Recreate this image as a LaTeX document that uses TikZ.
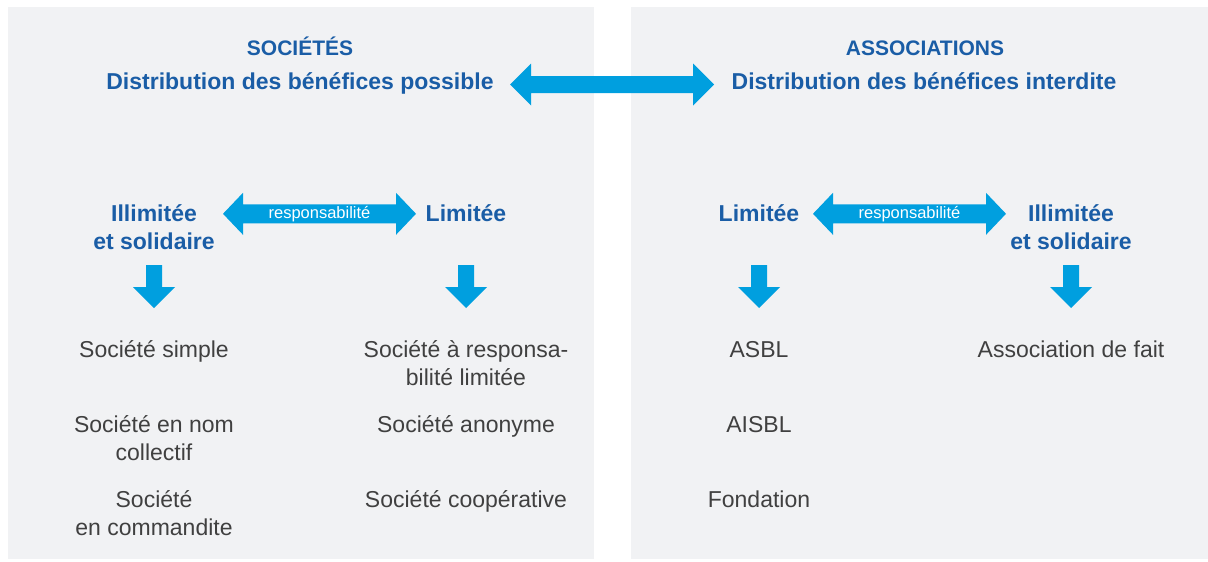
\documentclass[tikz,border=0pt]{standalone}
\usepackage{fontspec}
\setmainfont{Liberation Sans}
\usetikzlibrary{calc}
\definecolor{panelgray}{HTML}{F1F2F4}
\definecolor{arrowblue}{HTML}{009FDF}
\definecolor{headblue}{HTML}{1A5DA6}
\definecolor{bodygray}{HTML}{404040}
\tikzset{
  head/.style={font=\bfseries\fontsize{23}{28}\selectfont, text=headblue, anchor=base, inner sep=0pt, align=center},
  title/.style={font=\bfseries\fontsize{21}{25}\selectfont, text=headblue, anchor=base, inner sep=0pt},
  body/.style={font=\fontsize{23}{28}\selectfont, text=bodygray, anchor=base, inner sep=0pt, align=center},
  lbl/.style={font=\fontsize{16.5}{19}\selectfont, text=white, inner sep=0pt},
}
\newcommand\hdarrow[5]{%
  \fill[arrowblue] (#1) -- ($(#1)+(#5,-#4)$) -- ($(#1)+(#5,-#3)$) -- ($(#2)+(-#5,-#3)$) -- ($(#2)+(-#5,-#4)$) -- (#2) -- ($(#2)+(-#5,#4)$) -- ($(#2)+(-#5,#3)$) -- ($(#1)+(#5,#3)$) -- ($(#1)+(#5,#4)$) -- cycle;}
\newcommand\vdarrow[2]{%
  \fill[arrowblue] ($(#1)+(-8,0)$) -- ($(#1)+(8,0)$) -- ($(#2)+(8,-21)$) -- ($(#2)+(21,-21)$) -- (#2) -- ($(#2)+(-21,-21)$) -- ($(#2)+(-8,-21)$) -- cycle;}
\begin{document}
\begin{tikzpicture}[x=1pt,y=-1pt]
\useasboundingbox (0,0) rectangle (1208,562);
\fill[panelgray] (8,7) rectangle (594,559);
\fill[panelgray] (631,7) rectangle (1208,559);

% titles
\node[title] (soc) at (300,55) {SOCIÉTÉS};
\node[head] (socd) at (300,89) {Distribution des bénéfices possible};
\node[title] (ass) at (925,55) {ASSOCIATIONS};
\node[head] (assd) at (924,89) {Distribution des bénéfices interdite};

% big arrow
\coordinate (bigL) at (510,84.5);
\coordinate (bigR) at (714,84.5);
\hdarrow{bigL}{bigR}{8.5}{21}{21}

% left responsibility
\node[head] (illL) at (154,249) {Illimitée\\et solidaire};
\node[head] (limL) at (466,221) {Limitée};
\coordinate (rsL1) at (223,213.8);
\coordinate (rsL2) at (416,213.8);
\hdarrow{rsL1}{rsL2}{9.5}{21}{20}
\node[lbl] (respL) at ($(rsL1)!0.5!(rsL2)$) {responsabilité};

% right responsibility
\node[head] (limR) at (759,221) {Limitée};
\node[head] (illR) at (1071,249) {Illimitée\\et solidaire};
\coordinate (rsR1) at (813,213.8);
\coordinate (rsR2) at (1006,213.8);
\hdarrow{rsR1}{rsR2}{9.5}{21}{20}
\node[lbl] (respR) at ($(rsR1)!0.5!(rsR2)$) {responsabilité};

% down arrows
\coordinate (d1t) at (154,265); \coordinate (d1b) at (154,308);
\coordinate (d2t) at (466,265); \coordinate (d2b) at (466,308);
\coordinate (d3t) at (759,265); \coordinate (d3b) at (759,308);
\coordinate (d4t) at (1071,265); \coordinate (d4b) at (1071,308);
\vdarrow{d1t}{d1b}
\vdarrow{d2t}{d2b}
\vdarrow{d3t}{d3b}
\vdarrow{d4t}{d4b}

% lists
\node[body] (s1) at (154,357) {Société simple};
\node[body] (s2) at (154,460) {Société en nom\\collectif};
\node[body] (s3) at (154,535) {Société\\en commandite};
\node[body] (l1) at (466,385) {Société à responsa-\\bilité limitée};
\node[body] (l2) at (466,432) {Société anonyme};
\node[body] (l3) at (466,507) {Société coopérative};
\node[body] (a1) at (759,357) {ASBL};
\node[body] (a2) at (759,432) {AISBL};
\node[body] (a3) at (759,507) {Fondation};
\node[body] (f1) at (1071,357) {Association de fait};
\end{tikzpicture}
\end{document}
